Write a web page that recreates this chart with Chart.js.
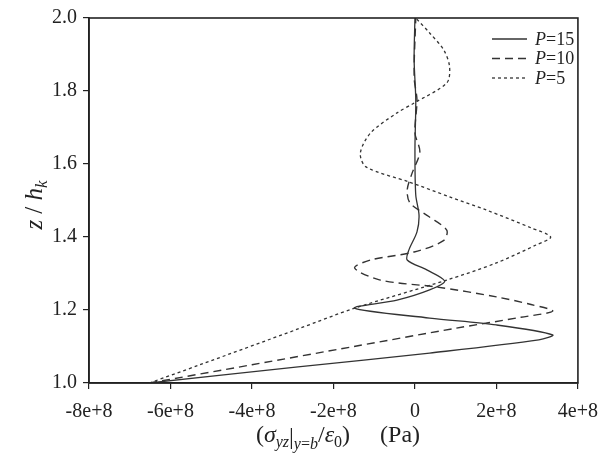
<!DOCTYPE html>
<html>
<head>
<meta charset="utf-8">
<script src="https://cdn.jsdelivr.net/npm/chart.js@4.4.0/dist/chart.umd.min.js"></script>
<style>
  html, body { margin: 0; padding: 0; background: #fff; }
  #wrap { width: 609px; height: 454px; }
</style>
</head>
<body>
<div id="wrap"><canvas id="stressChart" width="609" height="454"></canvas></div>
<script>
// z/h_k positions and stress values (in units of 1e8 Pa)
const zP15 = [1.000, 1.044, 1.082, 1.118, 1.132, 1.159, 1.178, 1.205, 1.227, 1.255, 1.279,
              1.310, 1.337, 1.364, 1.414, 1.460, 1.515, 1.638, 1.775, 1.885, 2.000];
const sP15 = [-6.52, -2.87, 0.36, 3.04, 3.38, 2.00, 0.36, -1.48, -0.44, 0.36, 0.73,
              0.29, -0.19, -0.15, 0.05, 0.10, 0.02, 0.00, 0.02, -0.02, 0.00];

const zP10 = [1.000, 1.050, 1.100, 1.150, 1.180, 1.197, 1.215, 1.236, 1.263, 1.282, 1.315, 1.337,
              1.359, 1.390, 1.419, 1.456, 1.493, 1.529, 1.575, 1.633, 1.685, 1.775, 1.838, 2.000];
const sP10 = [-6.52, -4.00, -1.50, 1.00, 2.60, 3.38, 2.85, 2.00, 0.54, -0.85, -1.48, -1.09,
              -0.02, 0.70, 0.78, 0.34, -0.12, -0.19, -0.07, 0.12, 0.00, 0.05, -0.02, 0.02];

const zP5 = [1.000, 1.049, 1.148, 1.205, 1.282, 1.329, 1.378, 1.400, 1.425, 1.474, 1.510,
             1.551, 1.592, 1.630, 1.685, 1.740, 1.767, 1.822, 1.866, 1.912, 1.959, 2.000];
const sP5 = [-6.52, -5.30, -2.87, -1.48, 0.78, 2.00, 2.97, 3.33, 2.85, 1.75, 0.85,
             -0.15, -1.20, -1.34, -1.09, -0.44, -0.02, 0.78, 0.85, 0.71, 0.36, 0.02];

const seriesLabels = ['P=15', 'P=10', 'P=5'];
const xTickValues = [-8, -6, -4, -2, 0, 2, 4];
const xTickLabels = ['-8e+8', '-6e+8', '-4e+8', '-2e+8', '0', '2e+8', '4e+8'];

const SERIF = '"Liberation Serif", "Times New Roman", serif';
const INK = '#222';

function toPoints(zs, vs) {
  return zs.map((z, i) => ({ x: vs[i], y: z }));
}

// box round the plot
const framePlugin = {
  id: 'frame',
  afterDraw(chart) {
    const { ctx, chartArea: a } = chart;
    ctx.save();
    ctx.strokeStyle = INK;
    ctx.lineWidth = 1.6;
    ctx.strokeRect(a.left, a.top, a.right - a.left, a.bottom - a.top);
    ctx.restore();
  }
};

// text runs with subscripts, centred on x
function drawRuns(ctx, runs, x, y) {
  let total = 0;
  runs.forEach(r => { ctx.font = r[1]; total += ctx.measureText(r[0]).width; });
  let cx = x - total / 2;
  runs.forEach(r => {
    ctx.font = r[1];
    ctx.fillText(r[0], cx, y + r[2]);
    cx += ctx.measureText(r[0]).width;
  });
}

const titlesPlugin = {
  id: 'titles',
  afterDraw(chart) {
    const ctx = chart.ctx;
    ctx.save();
    ctx.fillStyle = INK;
    ctx.textBaseline = 'alphabetic';
    ctx.textAlign = 'left';
    const big = '24px ' + SERIF, bigI = 'italic 24px ' + SERIF;
    const sub = '16px ' + SERIF, subI = 'italic 16px ' + SERIF;
    drawRuns(ctx, [
      ['(', big, 0], ['σ', bigI, 0], ['yz', subI, 5], ['|', big, 2],
      ['y', subI, 7], ['=', sub, 7], ['b', subI, 7], ['/', big, 0],
      ['ε', bigI, 0], ['0', sub, 5], [')', big, 0], ['     (Pa)', big, 0]
    ], 338, 442);

    const yt = '25px ' + SERIF, ytI = 'italic 25px ' + SERIF, ytS = 'italic 17px ' + SERIF;
    ctx.translate(42, 205);
    ctx.rotate(-Math.PI / 2);
    drawRuns(ctx, [
      ['z', ytI, 0], [' / ', yt, 0], ['h', ytI, 0], ['k', ytS, 5]
    ], 0, 0);
    ctx.restore();
  }
};

// legend inside the upper right corner
const legendPlugin = {
  id: 'insideLegend',
  afterDraw(chart) {
    const ctx = chart.ctx;
    ctx.save();
    chart.data.datasets.forEach((ds, i) => {
      const y = 39 + i * 19.5;
      ctx.strokeStyle = ds.borderColor;
      ctx.lineWidth = ds.borderWidth;
      ctx.setLineDash(ds.borderDash || []);
      ctx.beginPath();
      ctx.moveTo(492, y);
      ctx.lineTo(527, y);
      ctx.stroke();
      ctx.setLineDash([]);
      ctx.fillStyle = INK;
      ctx.textBaseline = 'middle';
      ctx.font = 'italic 18px ' + SERIF;
      ctx.fillText(ds.label[0], 535, y + 1);
      const w = ctx.measureText(ds.label[0]).width;
      ctx.font = '18px ' + SERIF;
      ctx.fillText(ds.label.slice(1), 535 + w, y + 1);
    });
    ctx.restore();
  }
};

const ctx = document.getElementById('stressChart').getContext('2d');
const stressChart = new Chart(ctx, {
  type: 'scatter',
  data: {
    datasets: [
      {
        label: seriesLabels[0],
        data: toPoints(zP15, sP15),
        borderColor: '#333',
        borderWidth: 1.3,
        borderDash: []
      },
      {
        label: seriesLabels[1],
        data: toPoints(zP10, sP10),
        borderColor: '#333',
        borderWidth: 1.4,
        borderDash: [8, 5]
      },
      {
        label: seriesLabels[2],
        data: toPoints(zP5, sP5),
        borderColor: '#333',
        borderWidth: 1.3,
        borderDash: [3, 3]
      }
    ]
  },
  options: {
    responsive: false,
    animation: false,
    showLine: true,
    elements: {
      point: { radius: 0 },
      line: { tension: 0.3, fill: false }
    },
    layout: { padding: { left: 0, right: 27, top: 18, bottom: 0 } },
    plugins: {
      legend: { display: false },
      tooltip: { enabled: false }
    },
    scales: {
      x: {
        type: 'linear',
        min: -8,
        max: 4,
        afterFit(scale) { scale.height = 71; },
        border: { color: INK, width: 1.6 },
        grid: { drawOnChartArea: false, drawTicks: true, tickLength: 6, color: INK, lineWidth: 1.2 },
        ticks: {
          stepSize: 2,
          padding: 11,
          color: INK,
          font: { family: SERIF, size: 20 },
          callback(value) {
            const i = xTickValues.indexOf(value);
            return i >= 0 ? xTickLabels[i] : '';
          }
        }
      },
      y: {
        type: 'linear',
        min: 1,
        max: 2,
        afterFit(scale) { scale.width = 89; },
        border: { color: INK, width: 1.6 },
        grid: { drawOnChartArea: false, drawTicks: true, tickLength: 6, color: INK, lineWidth: 1.2 },
        ticks: {
          stepSize: 0.2,
          padding: 6,
          color: INK,
          font: { family: SERIF, size: 20 },
          callback: (value) => value.toFixed(1)
        }
      }
    }
  },
  plugins: [framePlugin, titlesPlugin, legendPlugin]
});
</script>
</body>
</html>
